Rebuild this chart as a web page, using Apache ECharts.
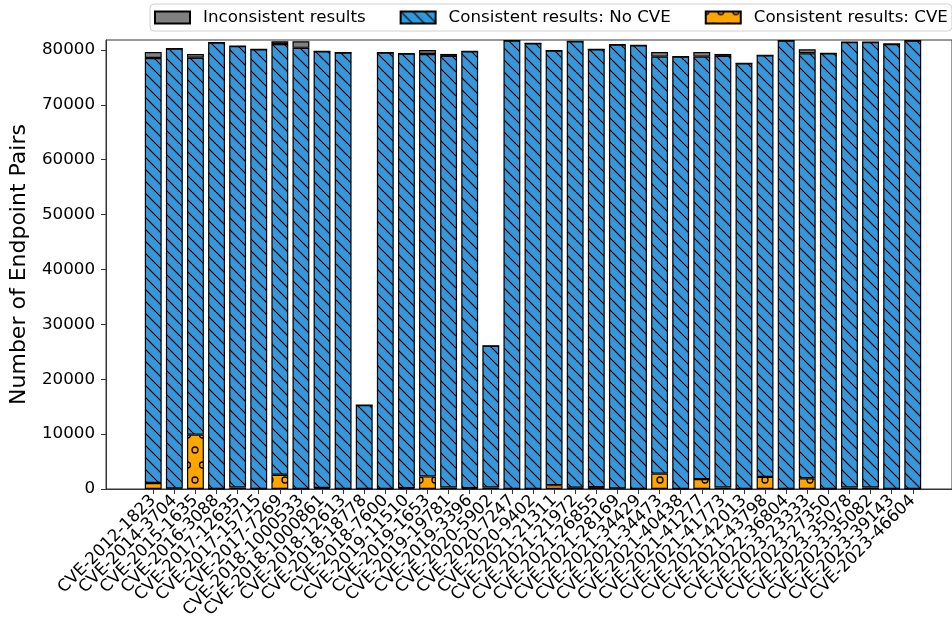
<!DOCTYPE html>
<html>
<head>
<meta charset="utf-8">
<script src="https://cdn.jsdelivr.net/npm/echarts@6/dist/echarts.min.js"></script>
<style>
  html, body { margin: 0; padding: 0; background: #fff; }
  #chart { width: 952px; height: 624px; }
</style>
</head>
<body>
<div id="chart"></div>
<script>
const cveNames = [
  'CVE-2012-1823', 'CVE-2014-3704', 'CVE-2015-1635', 'CVE-2016-3088', 'CVE-2017-12635',
  'CVE-2017-15715', 'CVE-2017-7269', 'CVE-2018-1000533', 'CVE-2018-1000861', 'CVE-2018-12613',
  'CVE-2018-18778', 'CVE-2018-7600', 'CVE-2019-11510', 'CVE-2019-1653', 'CVE-2019-19781',
  'CVE-2019-3396', 'CVE-2020-5902', 'CVE-2020-7247', 'CVE-2020-9402', 'CVE-2021-21311',
  'CVE-2021-21972', 'CVE-2021-26855', 'CVE-2021-28169', 'CVE-2021-34429', 'CVE-2021-34473',
  'CVE-2021-40438', 'CVE-2021-41277', 'CVE-2021-41773', 'CVE-2021-42013', 'CVE-2021-43798',
  'CVE-2022-36804', 'CVE-2023-23333', 'CVE-2023-27350', 'CVE-2023-35078', 'CVE-2023-35082',
  'CVE-2023-39143', 'CVE-2023-46604',
];

// Consistent results: CVE (bottom, orange)
const cveVals = [
  1100, 100, 9900, 0, 300, 0, 2600, 0, 200, 0,
  0, 0, 150, 2300, 300, 150, 300, 0, 0, 700,
  250, 350, 100, 0, 2800, 0, 1800, 300, 0, 2200,
  0, 1950, 0, 300, 300, 0, 0,
];

// Consistent results: No CVE (middle, blue)
const noCveVals = [
  77420, 80120, 68660, 81320, 80410, 80110, 78470, 80370, 79550, 79500,
  15300, 79500, 79160, 76960, 78600, 79600, 25800, 81680, 81200, 79160,
  81320, 79760, 80850, 80840, 75970, 78770, 76970, 78600, 77560, 76820,
  81680, 77430, 79380, 81140, 81140, 81080, 81680,
];

// Inconsistent results (top, gray)
const inconsistentVals = [
  1100, 0, 700, 0, 0, 0, 500, 1200, 0, 0,
  0, 0, 0, 730, 360, 0, 0, 0, 0, 0,
  0, 0, 0, 0, 850, 0, 850, 360, 0, 0,
  0, 730, 0, 0, 0, 0, 0,
];

const yTicks = [0, 10000, 20000, 30000, 40000, 50000, 60000, 70000, 80000];
const yMax = 81800;

// hatch '\\' on blue
const makeLineHatch = (bg) => {
  const s = 12;
  const c = document.createElement('canvas');
  c.width = s;
  c.height = s;
  const ctx = c.getContext('2d');
  ctx.fillStyle = bg;
  ctx.fillRect(0, 0, s, s);
  ctx.strokeStyle = '#000';
  ctx.lineWidth = 1.2;
  for (const x0 of [-s, 0, s]) {
    ctx.beginPath();
    ctx.moveTo(x0, 0);
    ctx.lineTo(x0 + s, s);
    ctx.stroke();
  }
  return c;
};

// hatch 'o' on orange
const makeCircleHatch = (bg) => {
  const w = 15;
  const h = 30;
  const c = document.createElement('canvas');
  c.width = w;
  c.height = h;
  const ctx = c.getContext('2d');
  ctx.fillStyle = bg;
  ctx.fillRect(0, 0, w, h);
  ctx.strokeStyle = '#000';
  ctx.lineWidth = 1.3;
  const pts = [[0, 0], [w, 0], [0, h], [w, h], [w / 2, h / 2]];
  for (const p of pts) {
    ctx.beginPath();
    ctx.arc(p[0], p[1], 3, 0, Math.PI * 2);
    ctx.stroke();
  }
  return c;
};

const myChart = echarts.init(document.getElementById('chart'));

const fontFam = 'DejaVu Sans';

// frame: 106..960 wide, bars: 37 bands of ~21.1px starting at 142.7
const option = {
  animation: false,
  textStyle: { fontFamily: fontFam },
  legend: {
    data: ['Inconsistent results', 'Consistent results: No CVE', 'Consistent results: CVE'],
    left: 150,
    top: 4,
    padding: [5, 4, 5, 4],
    itemGap: 34,
    itemWidth: 35,
    itemHeight: 12,
    icon: 'rect',
    borderColor: '#d0d0d0',
    borderWidth: 1,
    borderRadius: 4,
    textStyle: { fontSize: 16.7, color: '#000', fontFamily: fontFam, padding: [0, 0, 0, 8] },
  },
  grid: [
    { left: 142.7, right: 28.7, top: 40, bottom: 135 },
    {
      left: 106,
      right: -8,
      top: 40,
      bottom: 135,
      show: true,
      borderColor: '#333',
      borderWidth: 1,
    },
  ],
  xAxis: [
    {
      type: 'category',
      gridIndex: 0,
      data: cveNames,
      axisLine: { show: false },
      axisTick: { show: true, alignWithLabel: true, length: 5, lineStyle: { color: '#333' } },
      axisLabel: {
        interval: 0,
        rotate: 45,
        margin: 9,
        fontSize: 16.7,
        color: '#000',
        fontFamily: fontFam,
      },
    },
    {
      type: 'value',
      gridIndex: 1,
      min: 0,
      max: 1,
      splitLine: { show: false },
      axisLine: { show: true, lineStyle: { color: '#333', width: 1 } },
      axisTick: { show: false },
      axisLabel: { show: false },
    },
  ],
  yAxis: [
    {
      type: 'value',
      gridIndex: 0,
      min: 0,
      max: yMax,
      show: false,
    },
    {
      type: 'value',
      gridIndex: 1,
      min: 0,
      max: yMax,
      name: 'Number of Endpoint Pairs',
      nameLocation: 'middle',
      nameGap: 76,
      nameTextStyle: { fontSize: 22, color: '#000', fontFamily: fontFam },
      splitLine: { show: false },
      axisLine: { show: true, lineStyle: { color: '#333', width: 1 } },
      axisTick: { show: true, customValues: yTicks, length: 5, lineStyle: { color: '#333' } },
      axisLabel: {
        customValues: yTicks,
        margin: 11,
        fontSize: 16.7,
        color: '#000',
        fontFamily: fontFam,
        formatter: (v) => String(v),
      },
    },
  ],
  series: [
    {
      name: 'Consistent results: CVE',
      type: 'bar',
      stack: 'total',
      barWidth: '80%',
      xAxisIndex: 0,
      yAxisIndex: 0,
      data: cveVals,
      itemStyle: {
        color: { image: makeCircleHatch('#FFA500'), repeat: 'repeat' },
        borderColor: '#000',
        borderWidth: 1.2,
      },
    },
    {
      name: 'Consistent results: No CVE',
      type: 'bar',
      stack: 'total',
      barWidth: '80%',
      xAxisIndex: 0,
      yAxisIndex: 0,
      data: noCveVals,
      itemStyle: {
        color: { image: makeLineHatch('#3498db'), repeat: 'repeat' },
        borderColor: '#000',
        borderWidth: 1.2,
      },
    },
    {
      name: 'Inconsistent results',
      type: 'bar',
      stack: 'total',
      barWidth: '80%',
      xAxisIndex: 0,
      yAxisIndex: 0,
      data: inconsistentVals,
      itemStyle: {
        color: '#808080',
        borderColor: '#000',
        borderWidth: 1.2,
      },
    },
  ],
};
myChart.setOption(option);
</script>
</body>
</html>
